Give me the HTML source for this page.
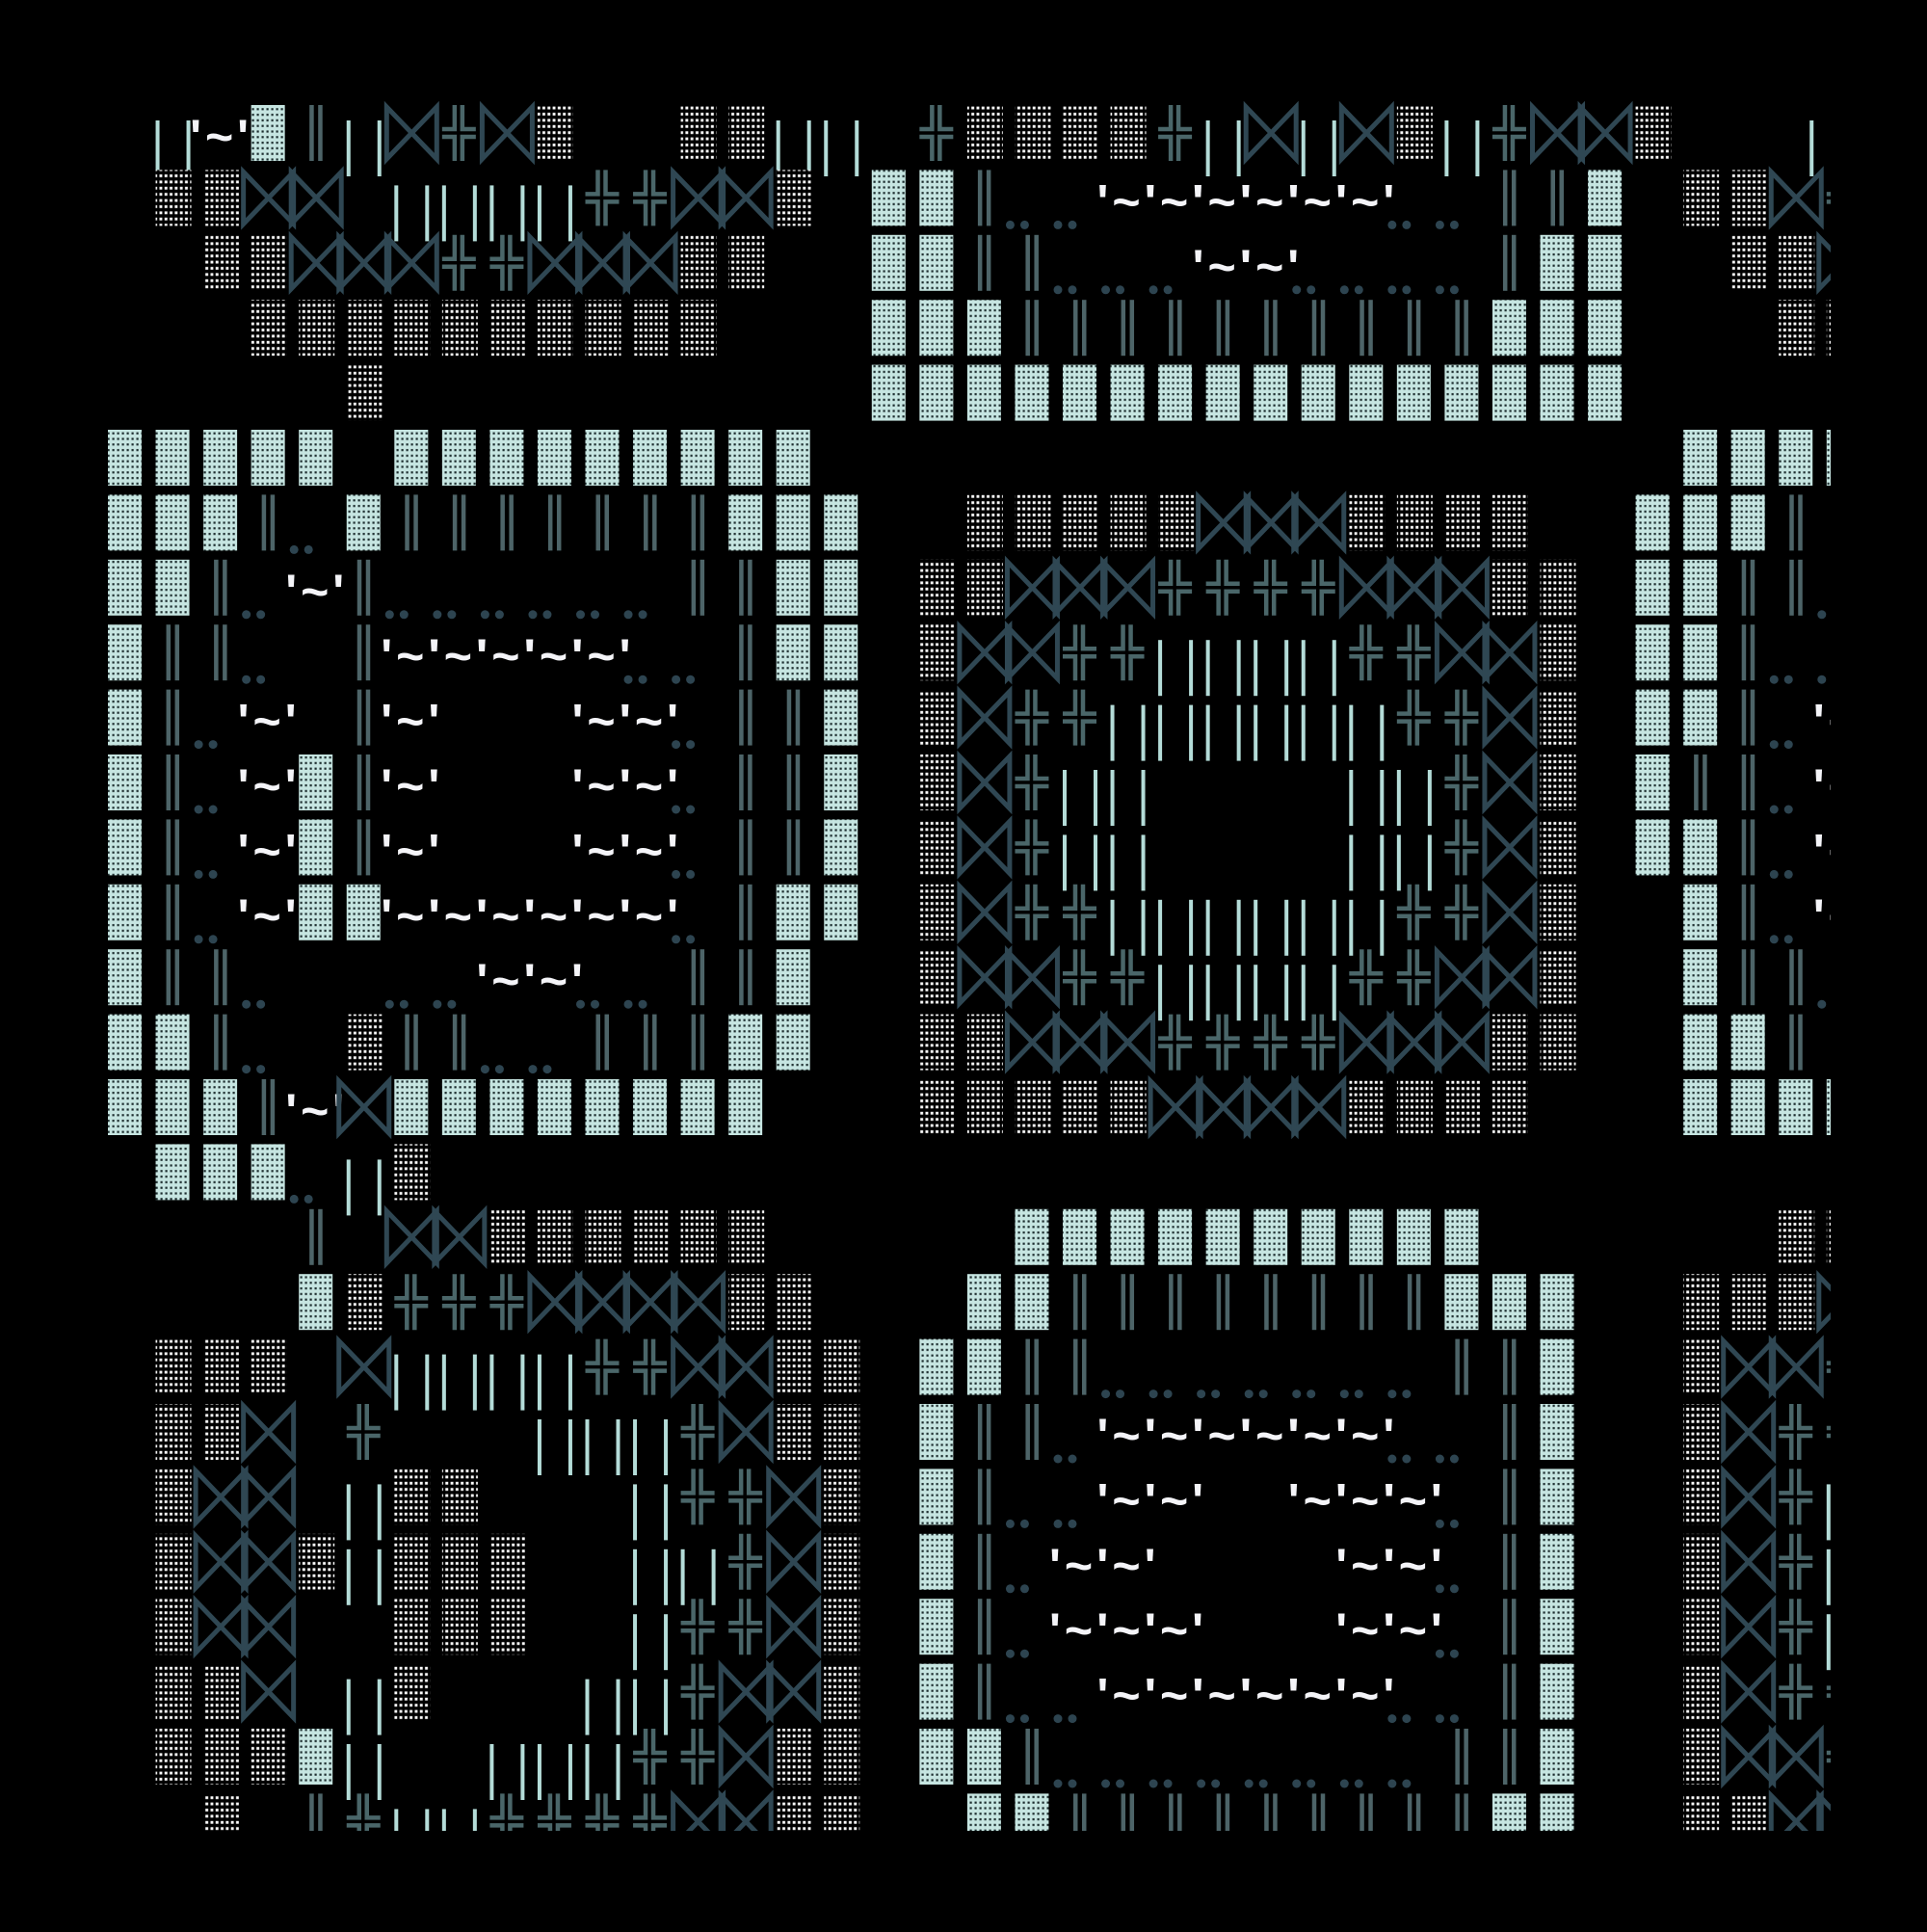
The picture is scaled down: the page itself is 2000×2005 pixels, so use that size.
<!DOCTYPE html>
<html><head><meta charset="utf-8"><style>
html,body{margin:0;padding:0;background:#000;width:2000px;height:2000px;overflow:hidden}
#wrap{position:absolute;left:0;top:0;width:2000px;height:2000px}
</style></head><body><div id="wrap"></div>
<script>
const R=[
" c~D=cX+Xo"+"  oocc +oo"+"oo+cXcXoc+"+"XXo  b ",
" ooXX cccc"+"++XXo DD=."+".~~~~~~..="+"=D ooX+",
"  ooXXX++X"+"XXoo  DD=="+"...~~....="+"DD  ooX",
"   ooooooo"+"ooo   DDD="+"=========D"+"DD   oo",
"     o    "+"      DDDD"+"DDDDDDDDDD"+"DD     ",
"DDDDD DDDD"+"DDDDD     "+"          "+"   DDDD",
"DDD=.D===="+"===DDD  oo"+"oooXXXoooo"+"  DDD= ",
"DD=.~=...."+"..==DD ooX"+"XX++++XXXo"+"o DD==.",
"D==. =~~~~"+"~..=DD oXX"+"++cccc++XX"+"o DD=..",
"D=.~ =~   "+"~~.==D oX+"+"+cccccc++X"+"o DD=.~",
"D=.~D=~   "+"~~.==D oX+"+"cc    cc+X"+"o D==.~",
"D=.~D=~   "+"~~.==D oX+"+"cc    cc+X"+"o DD=.~",
"D=.~DD~~~~"+"~~.=DD oX+"+"+cccccc++X"+"o  D=.~",
"D==.  ..~~"+"..==D  oXX"+"++cccc++XX"+"o  D==.",
"DD=. o==.."+"===DD  ooX"+"XX++++XXXo"+"o  DD= ",
"DDD=~XDDDD"+"DDDD   ooo"+"ooXXXXoooo"+"   DDDD",
" DDD.co   "+"          "+"          "+"       ",
"    = XXoo"+"oooo     D"+"DDDDDDDDD "+"     oo",
"    Do+++X"+"XXXoo   DD"+"========DD"+"D  oooX",
" ooo Xcccc"+"++XXoo DD="+"=.......=="+"D  oXX+",
" ooX +   c"+"cc+Xoo D=="+".~~~~~~..="+"D  oX++",
" oXX coo  "+" c++Xo D=."+".~~  ~~~.="+"D  oX+a",
" oXXocooo "+" cc+Xo D=."+"~~    ~~.="+"D  oX+a",
" oXX  ooo "+" c++Xo D=."+"~~~   ~~.="+"D  oX+a",
" ooX co   "+"cc+XXo D=."+".~~~~~~..="+"D  oX++",
" oooDc  cc"+"c++Xoo DD="+"........=="+"D  oXX+",
"  o =+cc++"+"++XXoo  DD"+"=========D"+"D  ooXX"
];
let s='<svg xmlns="http://www.w3.org/2000/svg" width="2000" height="2000" viewBox="0 0 2000 2000">'+
'<defs><pattern id="pd" patternUnits="userSpaceOnUse" width="5" height="5.8"><rect width="5" height="5.8" fill="#c6e5e1"/><rect x="1.5" y="2" width="2.2" height="2.2" fill="#1c2c2e"/></pattern>'+
'<pattern id="po" patternUnits="userSpaceOnUse" width="5.3" height="6.4"><rect width="5.3" height="6.4" fill="#000"/><rect x="1.2" y="1.8" width="2.9" height="2.9" fill="#fff"/></pattern>'+
'<clipPath id="cp"><rect x="100" y="100" width="1800" height="1800"/></clipPath></defs>'+
'<rect width="2000" height="2000" fill="#000"/><g clip-path="url(#cp)">';
for(let r=0;r<R.length;r++){const row=R[r];for(let c=0;c<row.length;c++){const ch=row[c];
const L=112+49.55*c, T=109+67.4*r;
switch(ch){
case 'D': s+=`<rect x="${L}" y="${T}" width="35" height="58" fill="url(#pd)"/>`;break;
case 'o': s+=`<rect x="${L}" y="${T}" width="37" height="58" fill="url(#po)"/>`;break;
case 'X': {const x0=L-8,x1=L+44,y0=T+2,y1=T+56;s+=`<path d="M${x0} ${y0}L${x1} ${y1}L${x1} ${y0}L${x0} ${y1}Z" fill="none" stroke="#2f4753" stroke-width="5"/>`;break;}
case '+': {const a=L+13,b=L+21,h1=T+25,h2=T+33;s+=`<path d="M${L} ${h1}H${a}V${T}M${L+35} ${h1}H${b}V${T}M${L} ${h2}H${a}V${T+58}M${L+35} ${h2}H${b}V${T+58}" fill="none" stroke="#4a6669" stroke-width="4.5"/>`;break;}
case '=': s+=`<rect x="${L+11}" y="${T}" width="4.5" height="58" fill="#4d6468"/><rect x="${L+20}" y="${T}" width="4.5" height="58" fill="#4d6468"/>`;break;
case 'a': s+=`<rect x="${L}" y="${T+16}" width="4" height="58" fill="#b4dcd8"/>`;break;
case 'b': s+=`<rect x="${L+32}" y="${T+16}" width="4" height="58" fill="#b4dcd8"/>`;break;
case 'c': s+=`<rect x="${L}" y="${T+16}" width="4" height="58" fill="#b4dcd8"/><rect x="${L+32}" y="${T+16}" width="4" height="58" fill="#b4dcd8"/>`;break;
case '~': s+=`<text x="${L-14}" y="${T+50}" font-family="Liberation Sans, sans-serif" font-size="50" font-weight="bold" fill="#f4f4f8" letter-spacing="4">'~'</text>`;break;
case '.': s+=`<circle cx="${L-5}" cy="${T+57}" r="4.5" fill="#2d4450"/><circle cx="${L+10}" cy="${T+57}" r="4.5" fill="#2d4450"/>`;break;
}}}
s+='</g></svg>';
document.getElementById('wrap').innerHTML=s;
</script>
</body></html>
